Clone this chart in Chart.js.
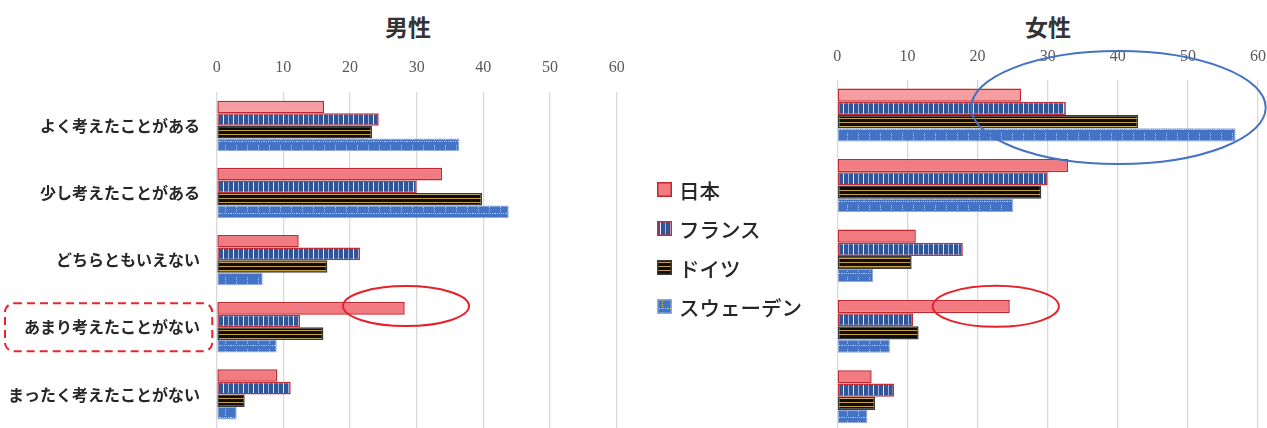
<!DOCTYPE html>
<html lang="ja">
<head>
<meta charset="utf-8">
<script src="https://cdn.jsdelivr.net/npm/chart.js@4.4.1/dist/chart.umd.min.js"></script>
<style>
  body { margin: 0; width: 1267px; height: 428px; overflow: hidden; background: #fff; position: relative; }
  canvas { position: absolute; top: 0; }
  #male-chart { left: 0; }
  #female-chart { left: 820px; }
  .chart-title {
    position: absolute; top: 10px; width: 200px; text-align: center;
    font: bold 23px "Noto Sans CJK JP", sans-serif; color: #333; line-height: 32px;
  }
  #legend { position: absolute; left: 657px; top: 170px; z-index: 2; }
  .legend-row {
    display: flex; align-items: center; height: 39px;
    font: 500 20.5px "Noto Sans CJK JP", sans-serif; color: #262626;
  }
  .legend-row canvas { position: static; margin-right: 7px; }
</style>
</head>
<body>
<div class="chart-title" style="left:308px">男性</div>
<div class="chart-title" style="left:948px">女性</div>
<canvas id="male-chart" width="640" height="428"></canvas>
<canvas id="female-chart" width="447" height="432"></canvas>
<div id="legend"></div>
<script>
const categories = ['よく考えたことがある', '少し考えたことがある', 'どちらともいえない', 'あまり考えたことがない', 'まったく考えたことがない'];
const countries = ['日本', 'フランス', 'ドイツ', 'スウェーデン'];
const xTicks = [0, 10, 20, 30, 40, 50, 60];

const maleJapan = [16.1, 33.8, 12.3, 28.2, 9.1];
const maleFrance = [24.3, 30.0, 21.5, 12.5, 11.1];
const maleGermany = [23.3, 39.8, 16.6, 16.0, 4.2];
const maleSweden = [36.4, 43.8, 6.9, 9.0, 3.0];

const femaleJapan = [26.2, 32.9, 11.2, 24.6, 4.9];
const femaleFrance = [32.6, 30.0, 17.9, 10.8, 8.1];
const femaleGermany = [42.9, 29.1, 10.6, 11.6, 5.4];
const femaleSweden = [56.8, 25.1, 5.1, 7.5, 4.3];

// small tiled fills for the bars
function makePattern(w, h, draw) {
  const c = document.createElement('canvas');
  c.width = w; c.height = h;
  const g = c.getContext('2d');
  draw(g);
  return g.createPattern(c, 'repeat');
}

const stripeBlue = makePattern(10, 4, g => {
  g.fillStyle = '#2F5597'; g.fillRect(0, 0, 10, 4);
  g.fillStyle = '#E4ECF8'; g.fillRect(3, 0, 1, 4);
  g.fillStyle = '#9CB6E0'; g.fillRect(8, 0, 1, 4);
});
const goldLines = makePattern(4, 4, g => {
  g.fillStyle = '#0D0D0D'; g.fillRect(0, 0, 4, 4);
  g.fillStyle = '#C9A043'; g.fillRect(0, 2, 4, 1);
});
const dottedCross = makePattern(11, 12, g => {
  g.fillStyle = '#4472C4'; g.fillRect(0, 0, 11, 12);
  g.fillStyle = '#CBD46E';
  for (let y = 1; y < 8; y += 2) g.fillRect(5, y, 1, 1);
  for (let x = 0; x < 11; x += 2) g.fillRect(x, 9, 1, 1);
});

const japanFill = ['#F59DA0', '#F27B81', '#F27B81', '#F27B81', '#F27B81'];

const seriesStyle = [
  { backgroundColor: japanFill, borderColor: '#C0282F', borderWidth: 1.5 },
  { backgroundColor: stripeBlue, borderColor: '#C0303A', borderWidth: 1.5 },
  { backgroundColor: goldLines, borderColor: '#3A3A3A', borderWidth: 1.5 },
  { backgroundColor: dottedCross, borderColor: '#8FAADC', borderWidth: 1 },
];

function buildDatasets(series) {
  return series.map((values, i) => ({
    label: countries[i],
    data: values,
    borderSkipped: false,
    categoryPercentage: 0.75,
    barPercentage: 1.0,
    ...seriesStyle[i],
  }));
}

// circles and the dashed frame drawn over the bars
const highlightPlugin = {
  id: 'highlight',
  afterDraw(chart, args, opts) {
    const { ctx, chartArea } = chart;
    const x = chart.scales.x, y = chart.scales.y;
    ctx.save();
    (opts.ellipses || []).forEach(e => {
      const cx = x.getPixelForValue(e.x);
      const rx = x.getPixelForValue(e.x + e.rx) - cx;
      const cy = y.getPixelForValue(e.row) + e.dy;
      ctx.beginPath();
      ctx.ellipse(cx, cy, rx, e.ry, 0, 0, Math.PI * 2);
      ctx.lineWidth = e.width;
      ctx.strokeStyle = e.color;
      ctx.stroke();
    });
    if (opts.box) {
      const b = opts.box;
      const cy = y.getPixelForValue(b.row);
      const left = b.left, right = chartArea.left - b.gap;
      ctx.beginPath();
      ctx.setLineDash([8, 5]);
      ctx.roundRect(left, cy - b.half, right - left, b.half * 2, 9);
      ctx.lineWidth = 2;
      ctx.strokeStyle = '#E8242E';
      ctx.stroke();
    }
    ctx.restore();
  }
};

// the label overhang would otherwise shrink the plot area
function noEdgePadding(s) {
  s.paddingTop = 0; s.paddingBottom = 0;
  s.paddingLeft = 0; s.paddingRight = 0;
}

function chartOptions(axisHeight, yWidth, padding, tickPad, highlight) {
  return {
    responsive: false,
    animation: false,
    indexAxis: 'y',
    layout: { padding },
    plugins: {
      legend: { display: false },
      tooltip: { enabled: false },
      highlight,
    },
    scales: {
      x: {
        position: 'top',
        min: xTicks[0],
        max: xTicks[xTicks.length - 1],
        afterFit: s => { s.height = axisHeight; noEdgePadding(s); },
        afterBuildTicks: s => { s.ticks = xTicks.map(v => ({ value: v })); },
        ticks: {
          padding: tickPad,
          color: '#595959',
          font: { family: "'Liberation Serif', serif", size: 16 },
        },
        grid: { color: '#D9D9D9', lineWidth: 1.3, drawTicks: false },
        border: { display: false },
      },
      y: {
        display: yWidth > 0,
        afterFit: s => { s.width = yWidth; noEdgePadding(s); },
        ticks: {
          padding: 16.7,
          color: '#262626',
          font: { family: "'Noto Sans CJK JP', sans-serif", size: 16, weight: 'bold' },
        },
        grid: { display: false, drawTicks: false },
        border: { display: false },
      },
    },
  };
}

new Chart(document.getElementById('male-chart'), {
  type: 'bar',
  data: {
    labels: categories,
    datasets: buildDatasets([maleJapan, maleFrance, maleGermany, maleSweden]),
  },
  options: chartOptions(92.3, 216.7, { left: 0, right: 23.3, top: 0, bottom: 0 }, 15.3, {
    ellipses: [{ x: 28.4, rx: 9.45, row: 3, dy: -21.2, ry: 20, width: 2, color: '#E8202A' }],
    box: { row: 3, left: 5, gap: 4.4, half: 24 },
  }),
  plugins: [highlightPlugin],
});

new Chart(document.getElementById('female-chart'), {
  type: 'bar',
  data: {
    labels: categories,
    datasets: buildDatasets([femaleJapan, femaleFrance, femaleGermany, femaleSweden]),
  },
  options: chartOptions(79.8, 0, { left: 17.3, right: 9, top: 0, bottom: 0 }, 13.8, {
    ellipses: [
      { x: 22.6, rx: 9.0, row: 3, dy: -20, ry: 20.5, width: 2, color: '#E8202A' },
      { x: 40.1, rx: 21, row: 0, dy: -7.5, ry: 56.5, width: 2, color: '#4472C4' },
    ],
  }),
  plugins: [highlightPlugin],
});

// legend between the two charts
const legendEl = document.getElementById('legend');
seriesStyle.forEach((s, i) => {
  const row = document.createElement('div');
  row.className = 'legend-row';
  const sw = document.createElement('canvas');
  sw.width = 15; sw.height = 15;
  const g = sw.getContext('2d');
  g.fillStyle = Array.isArray(s.backgroundColor) ? s.backgroundColor[1] : s.backgroundColor;
  g.fillRect(0, 0, 15, 15);
  g.strokeStyle = s.borderColor;
  g.lineWidth = 1.5;
  g.strokeRect(0.75, 0.75, 13.5, 13.5);
  const label = document.createElement('span');
  label.textContent = countries[i];
  row.appendChild(sw);
  row.appendChild(label);
  legendEl.appendChild(row);
});
</script>
</body>
</html>
